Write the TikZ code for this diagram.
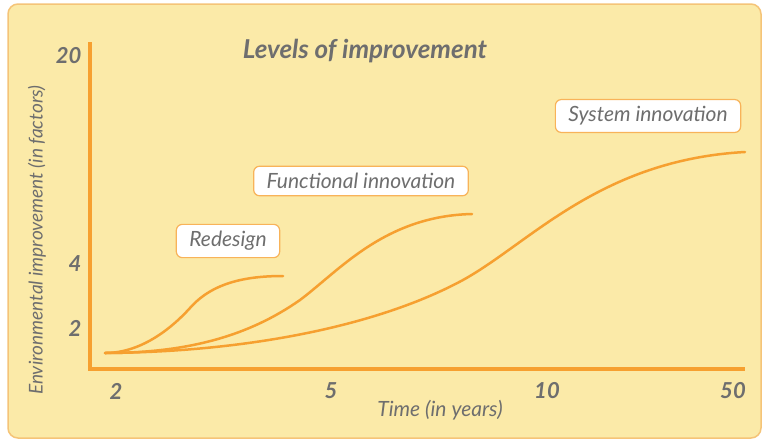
\documentclass[tikz,border=0pt]{standalone}
\usepackage{fontspec}
\setmainfont{Lato}
\usetikzlibrary{positioning}
\definecolor{panel}{RGB}{251,234,168}
\definecolor{rim}{RGB}{245,196,120}
\definecolor{curve}{RGB}{246,160,48}
\definecolor{ink}{RGB}{110,110,110}

\begin{document}
\begin{tikzpicture}[x=1pt, y=-1pt,
  levelbox/.style={rectangle, draw=curve!80, line width=1.2pt, rounded corners=6pt, fill=white, text=ink, font=\fontsize{21}{24}\selectfont\itshape, inner xsep=13pt, inner ysep=7pt},
  ticklab/.style={text=ink, font=\fontsize{22}{24}\selectfont\bfseries\itshape},
  axis/.style={draw=curve, line width=3.5pt},
  level/.style={draw=curve, line width=2.5pt, line cap=round}]
\clip (0,0) rectangle (763,442);
\fill[white] (0,0) rectangle (763,442);
\draw[fill=panel, draw=rim, line width=1.5pt, rounded corners=10pt] (8,4) rectangle (761,438);

% axes
\coordinate (top) at (90,42);
\coordinate (orig) at (90,369);
\coordinate (xend) at (745,369);
\draw[axis] (top) -- (orig) -- (xend);

\node[ticklab, anchor=east] (y20) at (85,56) {20};
\node[ticklab, anchor=east] (y4) at (85,264) {4};
\node[ticklab, anchor=east] (y2) at (85,328) {2};
\node[ticklab] (x2) at (116,391) {2};
\node[ticklab] (x5) at (331,391) {5};
\node[ticklab] (x10) at (547,391) {10};
\node[ticklab] (x50) at (733,391) {50};

\node[text=ink, font=\fontsize{21}{24}\selectfont\itshape] (xlab) at (440,410) {Time (in years)};
\node[text=ink, font=\fontsize{19}{21}\selectfont\itshape, rotate=90, anchor=west, inner sep=0pt] (ylab) at (37,395) {Environmental improvement (in factors)};
\node[text=ink, font=\fontsize{26}{30}\selectfont\bfseries\itshape] (title) at (365,51) {Levels of improvement};

% curves
\coordinate (start) at (105,353);
\coordinate (endR) at (283,276);
\coordinate (endF) at (472,214);
\coordinate (endS) at (745,152);
\draw[level] (start) .. controls (140,353) and (170,330) .. (190,308) .. controls (212,283) and (245,276) .. (endR);
\draw[level] (start) .. controls (190,353) and (250,335) .. (300,300) .. controls (340,270) and (385,216) .. (endF);
\draw[level] (start) .. controls (250,352) and (380,325) .. (463,280) .. controls (530,243) and (600,160) .. (endS);

\node[levelbox] (redesign) at (228,241) {Redesign};
\node[levelbox] (functional) at (361,181) {Functional innovation};
\node[levelbox] (system) at (648,116) {System innovation};
\end{tikzpicture}
\end{document}
